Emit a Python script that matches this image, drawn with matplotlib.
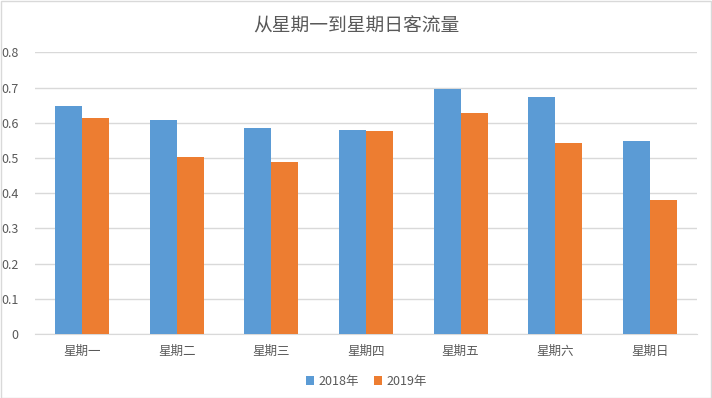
import matplotlib.pyplot as plt
import numpy as np

plt.rcParams['font.family'] = ['Noto Sans CJK SC', 'DejaVu Sans']

days = ['星期一', '星期二', '星期三', '星期四', '星期五', '星期六', '星期日']
y2018 = [0.648, 0.608, 0.585, 0.580, 0.696, 0.673, 0.548]
y2019 = [0.614, 0.503, 0.489, 0.577, 0.628, 0.543, 0.381]

blue = '#5B9BD5'
orange = '#ED7D31'
text_gray = '#595959'

fig = plt.figure(figsize=(7.12, 3.98), dpi=100)
ax = fig.add_axes([35 / 712, 64 / 398, 662 / 712, 281.7 / 398])

x = np.arange(len(days))
w = 0.285
ax.bar(x - w / 2, y2018, width=w, color=blue, label='2018年', zorder=3)
ax.bar(x + w / 2, y2019, width=w, color=orange, label='2019年', zorder=3)

ax.set_xlim(-0.5, len(days) - 0.5)
ax.set_ylim(0, 0.8)
ax.set_yticks(np.arange(0, 0.81, 0.1))
ax.set_yticklabels(['0'] + ['%.1f' % v for v in np.arange(0.1, 0.81, 0.1)])
ax.set_xticks(x)
ax.set_xticklabels(days)

# grid and spines
ax.grid(True, axis='y', color='#D9D9D9', linewidth=1, zorder=0)
for s in ['top', 'right', 'left']:
    ax.spines[s].set_visible(False)
ax.spines['bottom'].set_color('#D9D9D9')
ax.tick_params(axis='both', length=0, labelsize=9, colors=text_gray)
ax.tick_params(axis='x', pad=8)
ax.tick_params(axis='y', pad=12)

fig.suptitle('从星期一到星期日客流量', y=0.962, fontsize=13.5, color=text_gray)

ax.legend(loc='upper center', bbox_to_anchor=(0.5, -0.105), ncol=2, frameon=False,
          fontsize=9, labelcolor=text_gray, handlelength=0.7, handleheight=0.7,
          handletextpad=0.3, columnspacing=1.2)

# chart border
fig.patches.append(plt.Rectangle((0.001, 0.001), 0.997, 0.996, transform=fig.transFigure,
                                 fill=False, edgecolor='#D9D9D9', linewidth=1))

fig.savefig('out.png', dpi=100)
